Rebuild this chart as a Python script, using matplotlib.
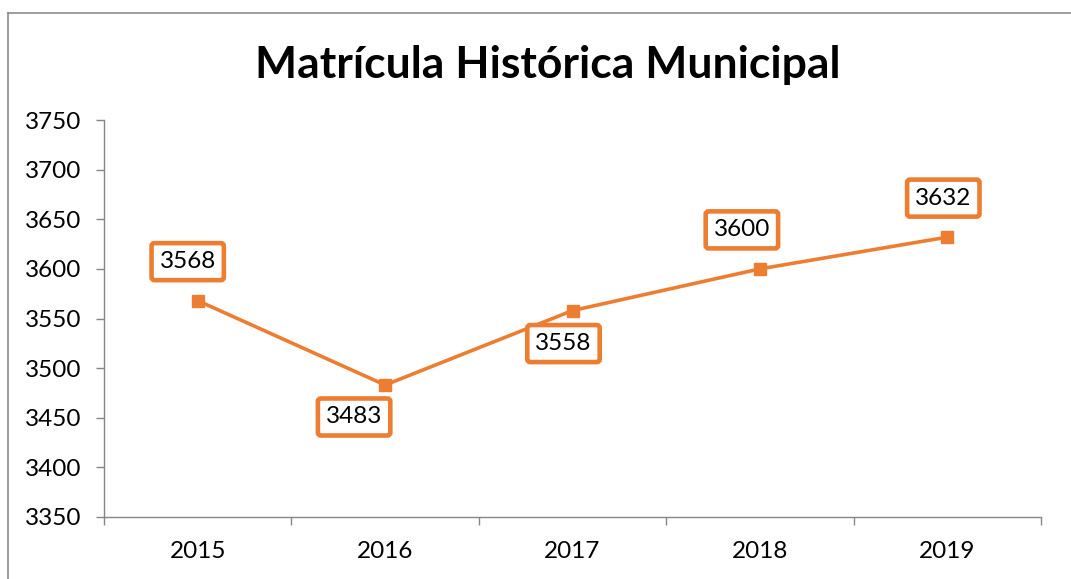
import matplotlib.pyplot as plt
from matplotlib.lines import Line2D

plt.rcParams['font.family'] = ['Lato', 'DejaVu Sans']

# dados
anos = ['2015', '2016', '2017', '2018', '2019']
matriculas = [3568, 3483, 3558, 3600, 3632]
y_ticks = [3350, 3400, 3450, 3500, 3550, 3600, 3650, 3700, 3750]

laranja = '#ED7D31'
cinza = '#868686'

fig = plt.figure(figsize=(10.71, 5.79), dpi=100)
ax = fig.add_axes([0.0971, 0.1071, 0.8749, 0.6856])

x = list(range(len(anos)))
ax.plot(x, matriculas, color=laranja, lw=2.6, marker='s', ms=9, zorder=3)

# deslocamento dos rótulos (em pixels)
offsets = [(-10, 39), (-31, -32), (-9, -33), (-18, 39), (-4, 39)]
for xi, v, (dx, dy) in zip(x, matriculas, offsets):
    ax.annotate(str(v), (xi, v), xytext=(dx * 0.72, dy * 0.72), textcoords='offset points',
                ha='center', va='center', fontsize=17.5, color='black', zorder=4,
                bbox=dict(boxstyle='round,pad=0.33,rounding_size=0.12', fc='white',
                          ec=laranja, lw=3.3))

ax.set_xlim(-0.5, len(anos) - 0.5)
ax.set_ylim(3350, 3750)
ax.set_yticks(y_ticks)
ax.set_xticks(x)
ax.set_xticklabels(anos)
ax.set_xticks([i - 0.5 for i in range(len(anos) + 1)], minor=True)
ax.tick_params(axis='x', which='major', length=0, pad=17, labelsize=17.5)
ax.tick_params(axis='x', which='minor', length=6, color=cinza, width=1)
ax.tick_params(axis='y', length=6, color=cinza, width=1, pad=10, labelsize=17.5)

for s in ['top', 'right']:
    ax.spines[s].set_visible(False)
for s in ['left', 'bottom']:
    ax.spines[s].set_color(cinza)
    ax.spines[s].set_linewidth(1)

fig.text(0.511, 0.888, 'Matrícula Histórica Municipal', ha='center', va='center',
         fontsize=32, fontweight='bold')

# moldura
fig.add_artist(Line2D([8 / 1071, 1], [1 - 13 / 579, 1 - 13 / 579], color='#8c8c8c', lw=1.2))
fig.add_artist(Line2D([8 / 1071, 8 / 1071], [0, 1 - 13 / 579], color='#8c8c8c', lw=1.2))

fig.savefig('out.png', dpi=100)
